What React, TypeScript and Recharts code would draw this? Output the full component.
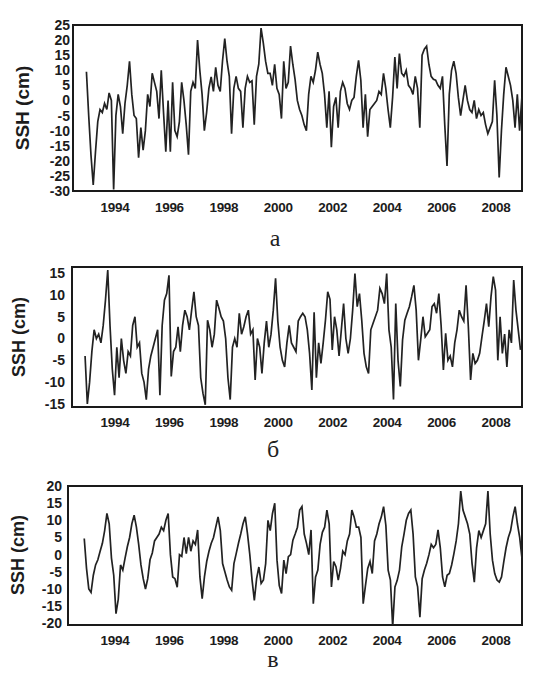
import { LineChart, Line, XAxis, YAxis, ReferenceArea } from 'recharts';

// years on the time axis
const YEAR_TICKS = [1994, 1996, 1998, 2000, 2002, 2004, 2006, 2008];

// panel а: monthly SSH, cm (first point ~ Dec 1992)
const SSH_A_START = 1992.95;
const sshA1 = [
  9.5, -5, -18, -28, -17, -7, -3, -4, -1, -3, 2.5, 0,
  -29.5, -5, 2, -2, -11, -1, 5, 13, 2, -5, -6, -19,
  -9, -16.5, -10, 2, -2, 9, 6, 3, -6, 10, -4, -17,
  0, -17, 6, -10, -12, -7, 6, 0, -8, -18, 3, 6,
  4, 20, 10, 2, -10, -4, 4, 7.8, 3, 11, 5, 3,
  13, 20.5, 13, 8, -11, 4, 8, 4, 3, -9, 4, 8,
  6, 6.5, -8, 8, 12, 24, 19, 13, 9, 9, 5, 12,
  4, 2, -6, 13, 4, 6, 18, 12, 7, 0, -3, -5, -8,
];
const sshA2 = [
  -10, 2, 8, 6, 10, 16, 12, 9, 2, -9, 3, -15.5,
  -2, 1, -9, 3, 6, 4, -1, -3, 0, 1, 8, 13.3,
  6.7, -9, 2, -12, -3, -2, -1, 0, 3, 2, 9, 4,
  -3, -9, 1, 14.4, 4, 15.5, 9, 8, 10, 5, 4, 2,
  8, 4, -9, 15, 17, 18, 12, 8, 7, 6.7, 5, 4,
  8, -8, -21.7, 2, 10, 13, 9, 1, -5, 0, 5, 0,
  -3, -4, 0, -6, -3, -5, -4, -8, -11, -9, -7, 6.7,
  -5, -25.5, -10, 2, 11, 8, 5, 0, -9, 2, -10, 1,
];

// panel б
const SSH_B_START = 1992.9;
const sshB1 = [
  -4, -15, -10, -3, 2, 0, 1, -1, 3, 8.8, 15.7, 3,
  -7, -13, -2, -9, 0, -5, -8, -3, -4, 3, 5, -2,
  -1, -8, -10, -14, -7, -4, -2, 0, 2, -13, 3, 8.8,
  10.3, 14.5, -8.7, -3, -2, 2.7, -3, 3, 6.5, 5, 2, 6.5,
  10.7, 5, 3, -9, -12.6, -15.2, 4.2, 2, -2, 1, 8.8, 7,
  5, 4, 0, -9, -14, -2, 0, -2, 5.8, 1, 2.7, 5,
  6.5, 1, 2, -9.5, 0, -2, -8, -1, 4, -2, 1, 6.5,
  13.8, 4, -2, -5, -6.5, -1, 3, -1, -2, -3, 4, 5,
  5.8, 5, 2,
];
const sshB2 = [
  -3.4, -11.8, 6, -9, -1, -5.7, -1, 4.2, 10.7, 9, -2.6, 5,
  2, -4, 2, 8, 0, -3.4, 0, 6.5, 14.9, 7.3, 10.3, 4.2,
  -3.4, -6.5, -8, 2, 3.5, 5, 6.5, 11.5, 10.3, 8, 14.9, 2,
  -2, -14, 8, -5, -11, -0.3, 4.2, 5.8, 7.3, 9.6, 12.2, 6.5,
  -5, -0.3, 5, 0.4, 1.2, 2, 7.3, 8, 5.8, 10.3, 3, -7.2,
  1.2, -5, -4, -6.5, -1, 2, 6.5, 5, 4, 12.2, 2.7, -9.5,
  -3.4, -5.7, -5, -3.4, 0.4, 4, 8, 2.7, 9.6, 14.2, 11.1, -5,
  5, -3.4, 1, -6.5, 2, -1, 13.4, 6.5, 2, -2.6,
];

// panel в
const SSH_C_START = 1992.87;
const sshC1 = [
  4.7, -4, -10, -11, -6, -3, -1.5, 1, 3.3, 7, 12, 9,
  -1, -6, -17.2, -13, -3, -4.5, -1, 2.3, 5, 9, 11.5, 8,
  3, -3, -7, -10, -7, -1.5, 0.5, 4, 5, 6, 8, 7,
  10, 12, 0, -6.5, -7, -9.5, 0, -0.5, 5, 0.3, 5, 1,
  4, 3, 7.2, -6.5, -12.8, -6.5, -2, 1, 3.3, 5, 8, 11,
  7, -2.6, -5, -7.4, -9.4, -10.4, -2.6, 0.3, 3.3, 6, 9, 11,
  6, 0, -7.4, -13.3, -7, -3.6, -8.4, -7.4, -2.6, 10, 7, 12,
  15, -1.6, -9, -11.3, -1.6, -5.5, -0.6, 0, 4.2, 6, 8, 13,
  14, 6, 3.3, 0,
];
const sshC2 = [
  7.2, -14.3, -6.5, -4.5, 3, 6.5, 8, 13, 9, -9.4, -2, -3.5,
  -7.4, -4, 1, 0, 4, 6, 13, 11, 8, 8, 5, -14.3,
  -9, -4, -2, -5.5, 4, 6, 9, 11, 14, 8.5, -4.5, -7.4,
  -21, -9.4, -7.5, -4.5, 2.3, 6, 10, 12, 13, 6, -6.5, -9.4,
  -18.2, -7, -4.5, -2.5, 0, 3, 2, 3, 7.2, 2, -6.5, -9.4,
  -6, -5.5, -3, 0.3, 4, 9, 18.5, 13, 11, 9, 6, -2.6,
  -8, 2, 7, 5, 7, 9, 18.5, 6, -1.6, -5.5, -7.4, -8,
  -6.5, -2, 2, 5, 7, 11, 14, 9, 5, -1,
];

const toSeries = (start: number, vals: number[]) =>
  vals.map((v, i) => ({ t: start + i / 12, v }));

// pixel anchors of the year labels, same for all three panels
const X1994 = 115;
const PX_PER_YEAR = (496 - 115) / 14;
const yearAt = (px: number) => 1994 + (px - X1994) / PX_PER_YEAR;

const W = 533;
const PLOT_RIGHT = 522;
const tickFont = { fill: '#1c1c1c', fontSize: 14, fontWeight: 700, fontFamily: 'Liberation Sans, Arial, sans-serif' };
const yearFont = { ...tickFont, fontSize: 13.5, letterSpacing: -0.3 };

interface PanelProps {
  chartTop: number;
  plotTop: number;
  plotBottom: number;
  plotLeft: number;
  yDomain: [number, number];
  yTicks: number[];
  yTickMargin: number;
  xTickMargin: number;
  data: { t: number; v: number }[];
}

function Panel(p: PanelProps) {
  const xDomain: [number, number] = [yearAt(p.plotLeft), yearAt(PLOT_RIGHT)];
  const height = p.plotBottom + 30 - p.chartTop;
  return (
    <div style={{ position: 'absolute', left: 0, top: p.chartTop }}>
      <LineChart
        width={W}
        height={height}
        data={p.data}
        margin={{ top: p.plotTop - p.chartTop, right: W - PLOT_RIGHT, bottom: 0, left: 0 }}
      >
        <XAxis
          type="number" dataKey="t" domain={xDomain} allowDataOverflow
          ticks={YEAR_TICKS} interval={0} height={30}
          axisLine={false} tickLine={false} tickSize={0} tickMargin={p.xTickMargin}
          tick={yearFont}
        />
        <YAxis
          type="number" domain={p.yDomain} allowDataOverflow
          ticks={p.yTicks} interval={0} width={p.plotLeft}
          axisLine={false} tickLine={false} tickSize={0} tickMargin={p.yTickMargin}
          tick={tickFont}
        />
        <Line
          type="linear" dataKey="v" dot={false} stroke="#222" strokeWidth={1.7}
          strokeLinejoin="miter" isAnimationActive={false}
        />
        <ReferenceArea
          x1={xDomain[0]} x2={xDomain[1]} y1={p.yDomain[0]} y2={p.yDomain[1]}
          fill="none" stroke="#1a1a1a" strokeWidth={2} ifOverflow="visible"
        />
      </LineChart>
    </div>
  );
}

const sshLabel = (x: number, y: number, size: number) => (
  <div
    style={{
      position: 'absolute', left: x, top: y, transform: 'translate(-50%, -50%) rotate(-90deg)',
      fontFamily: 'Liberation Sans, Arial, sans-serif', fontWeight: 700, fontSize: size,
      color: '#1c1c1c', whiteSpace: 'nowrap',
    }}
  >
    SSH (cm)
  </div>
);

const panelLetter = (text: string, x: number, baseline: number) => (
  <div
    style={{
      position: 'absolute', left: x, top: baseline - 20, transform: 'translateX(-50%)',
      fontFamily: 'Liberation Serif, serif', fontSize: 24, lineHeight: '24px', color: '#222',
    }}
  >
    {text}
  </div>
);

export default function App() {
  return (
    <div style={{ position: 'absolute', left: 0, top: 0, width: W, height: 675, background: '#fff', overflow: 'hidden' }}>
      <Panel
        chartTop={0} plotTop={25} plotBottom={191} plotLeft={73}
        yDomain={[-30, 25]} yTicks={[-30, -25, -20, -15, -10, -5, 0, 5, 10, 15, 20, 25]}
        yTickMargin={3} xTickMargin={11}
        data={toSeries(SSH_A_START, [...sshA1, ...sshA2])}
      />
      <Panel
        chartTop={245} plotTop={267} plotBottom={407} plotLeft={72}
        yDomain={[-15.7, 16.4]} yTicks={[-15, -10, -5, 0, 5, 10, 15]}
        yTickMargin={7} xTickMargin={10}
        data={toSeries(SSH_B_START, [...sshB1, ...sshB2])}
      />
      <Panel
        chartTop={465} plotTop={486} plotBottom={625} plotLeft={68}
        yDomain={[-20.5, 20]} yTicks={[-20, -15, -10, -5, 0, 5, 10, 15, 20]}
        yTickMargin={6} xTickMargin={10}
        data={toSeries(SSH_C_START, [...sshC1, ...sshC2])}
      />
      {sshLabel(23, 108, 19)}
      {sshLabel(19, 337, 18)}
      {sshLabel(18, 555, 18)}
      {panelLetter('а', 275, 246)}
      {panelLetter('б', 273, 457)}
      {panelLetter('в', 273, 667)}
    </div>
  );
}
